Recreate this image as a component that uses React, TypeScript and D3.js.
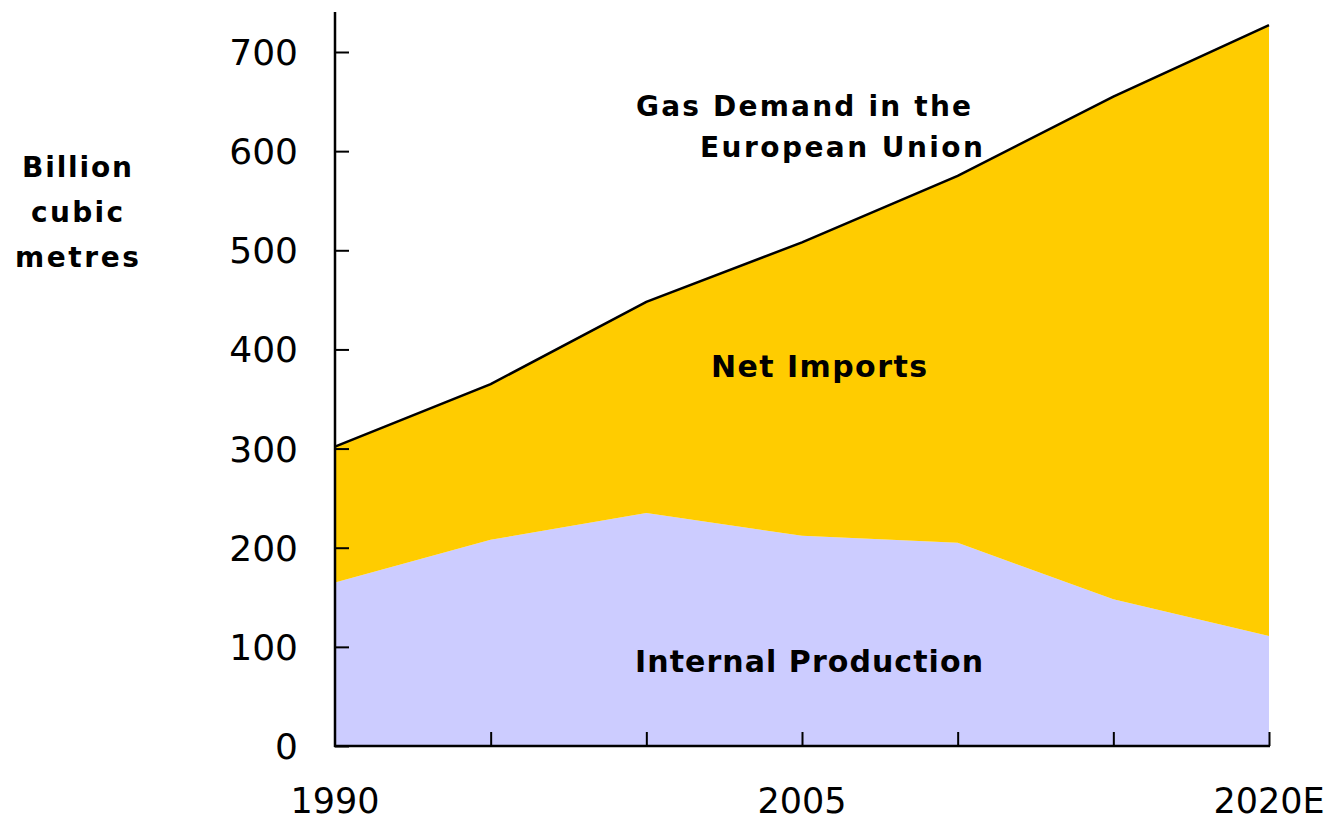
import React, { useEffect, useRef } from 'react';
import * as d3 from 'd3';

const years = [1990, 1995, 2000, 2005, 2010, 2015, 2020];
const demand = [302, 365, 448, 508, 575, 655, 727];
const production = [165, 208, 235, 212, 205, 148, 111];
const yTicks = [0, 100, 200, 300, 400, 500, 600, 700];
const xLabels = [
  { year: 1990, label: '1990' },
  { year: 2005, label: '2005' },
  { year: 2020, label: '2020E' },
];

export default function App() {
  const ref = useRef<SVGSVGElement>(null);

  useEffect(() => {
    const width = 1334, height = 821;
    const svg = d3.select(ref.current);
    svg.selectAll('*').remove();
    svg.attr('width', width).attr('height', height);

    const x = d3.scaleLinear().domain([1990, 2020]).range([335, 1269]);
    const y = d3.scaleLinear().domain([0, 700]).range([746, 52]);

    const data = years.map((yr, i) => ({ yr, d: demand[i], p: production[i] }));

    // internal production
    svg.append('path')
      .datum(data)
      .attr('fill', '#ccccff')
      .attr('d', d3.area<any>().x(d => x(d.yr)).y0(y(0)).y1(d => y(d.p)));

    // net imports
    svg.append('path')
      .datum(data)
      .attr('fill', '#ffcc00')
      .attr('d', d3.area<any>().x(d => x(d.yr)).y0(d => y(d.p)).y1(d => y(d.d)));

    // total demand line
    svg.append('path')
      .datum(data)
      .attr('fill', 'none')
      .attr('stroke', '#000')
      .attr('stroke-width', 2.5)
      .attr('d', d3.line<any>().x(d => x(d.yr)).y(d => y(d.d)));

    // y axis
    const yAxis = svg.append('g')
      .attr('transform', `translate(${x(1990)},0)`)
      .call(d3.axisRight(y).tickValues(yTicks).tickSize(14).tickSizeOuter(0).tickFormat(() => ''));
    yAxis.select('.domain').remove();
    yAxis.selectAll('line').attr('stroke-width', 2);
    svg.append('line')
      .attr('x1', x(1990)).attr('x2', x(1990))
      .attr('y1', 12).attr('y2', y(0) + 1)
      .attr('stroke', '#000').attr('stroke-width', 2.5);

    svg.append('g')
      .selectAll('text').data(yTicks).enter().append('text')
      .attr('x', 298)
      .attr('y', d => y(d))
      .attr('dy', '0.36em')
      .attr('text-anchor', 'end')
      .attr('font-family', 'DejaVu Sans')
      .attr('font-size', 36)
      .text(d => d);

    // x axis
    const xAxis = svg.append('g')
      .attr('transform', `translate(0,${y(0)})`)
      .call(d3.axisTop(x).tickValues(years.slice(1)).tickSize(14).tickSizeOuter(0).tickFormat(() => ''));
    xAxis.select('.domain').remove();
    xAxis.selectAll('line').attr('stroke-width', 2);
    svg.append('line')
      .attr('x1', x(1990) - 1).attr('x2', x(2020) + 1)
      .attr('y1', y(0)).attr('y2', y(0))
      .attr('stroke', '#000').attr('stroke-width', 2.5);

    svg.append('g')
      .selectAll('text').data(xLabels).enter().append('text')
      .attr('x', d => x(d.year))
      .attr('y', 813)
      .attr('text-anchor', 'middle')
      .attr('font-family', 'DejaVu Sans')
      .attr('font-size', 35)
      .text(d => d.label);

    // labels
    const bold = (t: string, px: number, py: number, size: number, len: number) =>
      svg.append('text')
        .attr('x', px).attr('y', py)
        .attr('font-family', 'DejaVu Sans, Verdana, sans-serif')
        .attr('font-weight', 'bold')
        .attr('font-size', size)
        .attr('textLength', len)
        .attr('lengthAdjust', 'spacing')
        .text(t);

    bold('Gas Demand in the', 636, 116, 28, 335);
    bold('European Union', 700, 157, 28, 283);
    bold('Net Imports', 711, 377, 30, 216);
    bold('Internal Production', 635, 672, 30, 348);

    bold('Billion', 22, 177, 28, 110);
    bold('cubic', 31, 222, 28, 92);
    bold('metres', 15, 267, 28, 124);
  }, []);

  return (
    <svg ref={ref} style={{ position: 'absolute', left: 0, top: 0, background: '#fff' }} />
  );
}
